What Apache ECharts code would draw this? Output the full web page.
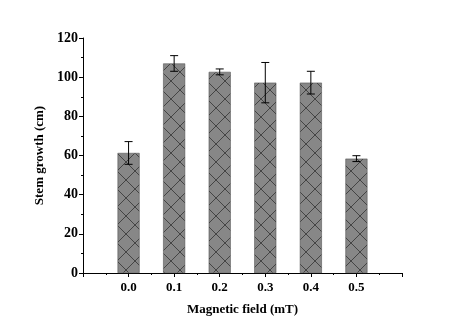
<!DOCTYPE html>
<html><head><meta charset="utf-8">
<script src="https://cdn.jsdelivr.net/npm/echarts@6/dist/echarts.min.js"></script>
<style>html,body{margin:0;padding:0;background:#fff}#c{width:467px;height:328px}</style>
</head><body><div id="c"></div>
<script>
const categories = [0.0, 0.1, 0.2, 0.3, 0.4, 0.5];
const means = [61.3, 107.0, 102.7, 97.2, 97.2, 58.4];
const errors = [5.8, 4.0, 1.5, 10.3, 5.8, 1.5];
const yTicks = [0, 20, 40, 60, 80, 100, 120];

function hatch() {
  const s = 18, c = document.createElement('canvas');
  c.width = s; c.height = s;
  const g = c.getContext('2d');
  g.fillStyle = '#878787'; g.fillRect(0, 0, s, s);
  g.strokeStyle = '#333'; g.lineWidth = 0.8;
  g.beginPath();
  g.moveTo(0, 0); g.lineTo(s, s);
  g.moveTo(s, 0); g.lineTo(0, s);
  g.stroke();
  return c;
}

const font = '"Liberation Serif", "Times New Roman", serif';
const chart = echarts.init(document.getElementById('c'));
chart.setOption({
  animation: false,
  grid: { left: 83, right: 65, top: 38, bottom: 55 },
  xAxis: {
    type: 'value', min: -0.1, max: 0.6, interval: 0.1,
    name: 'Magnetic field (mT)', nameLocation: 'middle', nameGap: 30,
    nameTextStyle: { fontFamily: font, fontWeight: 'bold', fontSize: 13, color: '#000' },
    axisLine: { show: true, onZero: false, lineStyle: { color: '#000', width: 1 } },
    axisTick: { show: true, inside: false, length: 4, lineStyle: { color: '#000' } },
    minorTick: { show: true, splitNumber: 2, length: 2, lineStyle: { color: '#000' } },
    splitLine: { show: false },
    axisLabel: { fontFamily: font, fontWeight: 'bold', fontSize: 13, color: '#000', margin: 8,
      formatter: v => { const r = Math.round(v * 10) / 10; return (r < 0 || r > 0.5) ? '' : r.toFixed(1); } }
  },
  yAxis: {
    type: 'value', min: yTicks[0], max: yTicks[yTicks.length - 1], interval: 20,
    name: 'Stem growth (cm)', nameLocation: 'middle', nameGap: 33,
    nameTextStyle: { fontFamily: font, fontWeight: 'bold', fontSize: 13, color: '#000' },
    axisLine: { show: true, onZero: false, lineStyle: { color: '#000', width: 1 } },
    axisTick: { show: true, inside: false, length: 4, lineStyle: { color: '#000' } },
    minorTick: { show: true, splitNumber: 2, length: 2, lineStyle: { color: '#000' } },
    splitLine: { show: false },
    axisLabel: { fontFamily: font, fontWeight: 'bold', fontSize: 14, color: '#000', margin: 5 }
  },
  series: [
    {
      type: 'bar', barWidth: 22,
      data: categories.map((c, i) => [c, means[i]]),
      itemStyle: { color: { image: hatch(), repeat: 'repeat' }, borderColor: '#444', borderWidth: 0.5 }
    },
    {
      type: 'custom',
      data: categories.map((c, i) => [c, means[i] - errors[i], means[i] + errors[i]]),
      renderItem: (params, api) => {
        const x = api.value(0);
        const lo = api.coord([x, api.value(1)]);
        const hi = api.coord([x, api.value(2)]);
        const w = 4;
        const st = { stroke: '#000', lineWidth: 1 };
        return { type: 'group', children: [
          { type: 'line', shape: { x1: hi[0], y1: hi[1], x2: lo[0], y2: lo[1] }, style: st },
          { type: 'line', shape: { x1: hi[0] - w, y1: hi[1], x2: hi[0] + w, y2: hi[1] }, style: st },
          { type: 'line', shape: { x1: lo[0] - w, y1: lo[1], x2: lo[0] + w, y2: lo[1] }, style: st }
        ]};
      },
      z: 5
    }
  ]
});
</script></body></html>
